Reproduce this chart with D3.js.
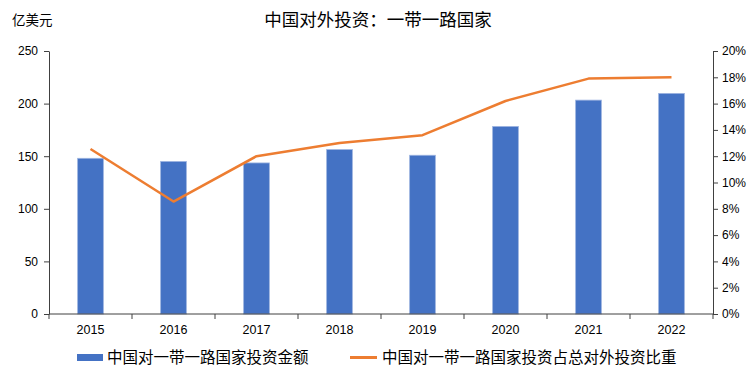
<!DOCTYPE html>
<html>
<head>
<meta charset="utf-8">
<script src="https://cdn.jsdelivr.net/npm/d3@7"></script>
<style>
  body { margin: 0; background: #fff; }
  text { font-family: "Liberation Sans", Arial, sans-serif; }
  .cjk { font-family: "Noto Sans CJK SC", sans-serif; }
</style>
</head>
<body>
<svg id="chart"></svg>
<script>
const years = ["2015", "2016", "2017", "2018", "2019", "2020", "2021", "2022"];
const amount = [148, 145, 143.6, 156.3, 150.9, 178.3, 203.3, 209.7];
const share = [12.55, 8.55, 12.0, 13.0, 13.6, 16.2, 17.9, 18.0];
const leftTicks = [0, 50, 100, 150, 200, 250];
const rightTicks = [0, 2, 4, 6, 8, 10, 12, 14, 16, 18, 20];

const width = 756, height = 378;
const margin = { top: 51, right: 43, bottom: 64, left: 49 };

const svg = d3.select("#chart").attr("width", width).attr("height", height);

const x = d3.scaleBand().domain(years).range([margin.left, width - margin.right]).paddingInner(0.69).paddingOuter(0.345);
const yL = d3.scaleLinear().domain([0, 250]).range([height - margin.bottom, margin.top]);
const yR = d3.scaleLinear().domain([0, 20]).range([height - margin.bottom, margin.top]);

// bars
svg.append("g").selectAll("rect")
  .data(years)
  .join("rect")
  .attr("x", d => x(d))
  .attr("width", x.bandwidth())
  .attr("y", (d, i) => yL(amount[i]))
  .attr("height", (d, i) => yL(0) - yL(amount[i]))
  .attr("fill", "#4472C4")
  .attr("stroke", "#9DB4E0")
  .attr("stroke-width", 0.8);

// line
const line = d3.line()
  .x((d, i) => x(years[i]) + x.bandwidth() / 2)
  .y(d => yR(d));

svg.append("path")
  .datum(share)
  .attr("d", line)
  .attr("fill", "none")
  .attr("stroke", "#ED7D31")
  .attr("stroke-width", 2.5)
  .attr("stroke-linejoin", "round");

// axes
const axisColor = "#404040";
const leftAxis = svg.append("g")
  .attr("transform", `translate(${margin.left},0)`)
  .call(d3.axisLeft(yL).tickValues(leftTicks).tickSize(5).tickSizeOuter(0).tickPadding(6));

const rightAxis = svg.append("g")
  .attr("transform", `translate(${width - margin.right},0)`)
  .call(d3.axisRight(yR).tickValues(rightTicks).tickSize(5).tickSizeOuter(0).tickPadding(4)
    .tickFormat(d => d + "%"));

// x axis with ticks at band boundaries
const step = x.step();
const xBase = yL(0);
const xg = svg.append("g");
xg.append("line")
  .attr("x1", margin.left).attr("x2", width - margin.right)
  .attr("y1", xBase).attr("y2", xBase)
  .attr("stroke", axisColor);
xg.selectAll(".xt")
  .data(d3.range(years.length + 1))
  .join("line")
  .attr("x1", i => margin.left + i * step)
  .attr("x2", i => margin.left + i * step)
  .attr("y1", xBase).attr("y2", xBase + 5)
  .attr("stroke", axisColor);
xg.selectAll("text")
  .data(years)
  .join("text")
  .attr("x", d => x(d) + x.bandwidth() / 2)
  .attr("y", xBase + 20)
  .attr("text-anchor", "middle")
  .attr("font-size", 12.5)
  .attr("fill", "#000")
  .text(d => d);

[leftAxis, rightAxis].forEach(g => {
  g.select(".domain").attr("stroke", axisColor);
  g.selectAll(".tick line").attr("stroke", axisColor);
  g.selectAll(".tick text").attr("font-size", 12).attr("fill", "#000")
    .style("font-family", "'Liberation Sans', Arial, sans-serif");
});

// titles
svg.append("text")
  .attr("class", "cjk")
  .attr("x", 378).attr("y", 26)
  .attr("text-anchor", "middle")
  .attr("font-size", 17.5)
  .attr("fill", "#000")
  .text("中国对外投资：一带一路国家");

svg.append("text")
  .attr("class", "cjk")
  .attr("x", 12).attr("y", 25)
  .attr("font-size", 13.5)
  .attr("fill", "#000")
  .text("亿美元");

// legend
const lg = svg.append("g");
lg.append("rect").attr("x", 77).attr("y", 354).attr("width", 26).attr("height", 7).attr("fill", "#4472C4");
lg.append("text").attr("class", "cjk").attr("x", 107).attr("y", 363).attr("font-size", 15.5).attr("fill", "#000")
  .text("中国对一带一路国家投资金额");
lg.append("line").attr("x1", 350).attr("x2", 377).attr("y1", 357.5).attr("y2", 357.5)
  .attr("stroke", "#ED7D31").attr("stroke-width", 3);
lg.append("text").attr("class", "cjk").attr("x", 382).attr("y", 363).attr("font-size", 15.5).attr("fill", "#000")
  .text("中国对一带一路国家投资占总对外投资比重");
</script>
</body>
</html>
